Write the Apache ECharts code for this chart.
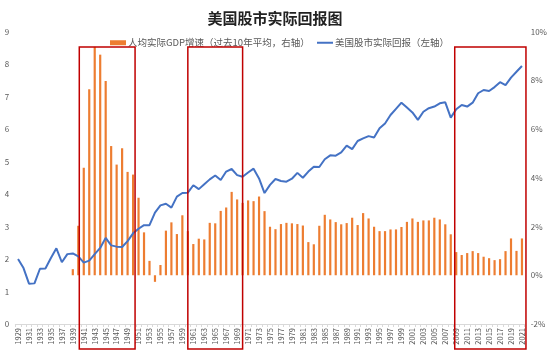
<!DOCTYPE html>
<html>
<head>
<meta charset="utf-8">
<script src="https://cdn.jsdelivr.net/npm/echarts@6/dist/echarts.min.js"></script>
<style>
html,body{margin:0;padding:0;background:#fff;}
#chart{width:550px;height:351px;}
</style>
</head>
<body>
<div id="chart"></div>
<script>
const years = ['1929','1930','1931','1932','1933','1934','1935','1936','1937','1938','1939','1940','1941','1942','1943','1944','1945','1946','1947','1948','1949','1950','1951','1952','1953','1954','1955','1956','1957','1958','1959','1960','1961','1962','1963','1964','1965','1966','1967','1968','1969','1970','1971','1972','1973','1974','1975','1976','1977','1978','1979','1980','1981','1982','1983','1984','1985','1986','1987','1988','1989','1990','1991','1992','1993','1994','1995','1996','1997','1998','1999','2000','2001','2002','2003','2004','2005','2006','2007','2008','2009','2010','2011','2012','2013','2014','2015','2016','2017','2018','2019','2020','2021'];

// 人均实际GDP增速（过去10年平均，%）— right axis
const gdpGrowth = [null,null,null,null,null,null,null,null,null,null,
  0.25,2.03,4.41,7.63,9.37,9.05,7.97,5.30,4.54,5.21,4.24,4.13,3.18,1.76,0.59,-0.27,0.42,1.83,2.17,1.69,2.46,
  1.81,1.28,1.50,1.47,2.15,2.13,2.64,2.78,3.42,3.11,2.97,3.07,3.04,3.23,2.63,1.99,1.89,2.10,2.15,2.13,
  2.10,2.04,1.36,1.27,2.03,2.48,2.29,2.18,2.09,2.14,2.36,2.06,2.55,2.33,1.99,1.81,1.81,1.88,1.88,1.98,
  2.19,2.33,2.19,2.25,2.25,2.36,2.29,2.09,1.68,0.95,0.83,0.91,0.99,0.91,0.76,0.70,0.62,0.66,0.99,1.51,1.00,1.51];

// 美国股市实际回报 — left axis
const stockReturn = [2.00,1.72,1.24,1.25,1.70,1.71,2.03,2.33,1.90,2.15,
  2.17,2.08,1.89,1.95,2.15,2.34,2.65,2.42,2.38,2.37,2.55,2.79,2.93,3.04,3.04,3.43,3.65,3.70,3.58,3.92,4.03,
  4.04,4.27,4.15,4.30,4.45,4.57,4.43,4.69,4.77,4.58,4.53,4.66,4.78,4.48,4.03,4.28,4.46,4.40,4.38,4.47,
  4.65,4.50,4.69,4.84,4.83,5.07,5.19,5.18,5.28,5.49,5.38,5.63,5.71,5.78,5.74,6.02,6.17,6.43,6.62,6.81,
  6.66,6.51,6.28,6.53,6.64,6.69,6.79,6.82,6.35,6.61,6.74,6.69,6.81,7.10,7.20,7.17,7.29,7.44,7.35,7.58,7.76,7.94];

const leftTicks = [0,1,2,3,4,5,6,7,8,9];
const rightTicks = ['-2%','0%','2%','4%','6%','8%','10%'];

// highlighted periods (red boxes)
const periods = [['1940','1950'],['1960','1970'],['2009','2021']];

const FONT = '"Noto Sans CJK SC","Noto Sans",sans-serif';
const GREY = '#595959';
const BAR_NAME = '人均实际GDP增速（过去10年平均，右轴）';
const LINE_NAME = '美国股市实际回报（左轴）';

const chart = echarts.init(document.getElementById('chart'), null, {renderer:'canvas'});
chart.setOption({
  animation:false,
  backgroundColor:'#fff',
  textStyle:{fontFamily:FONT},
  title:{
    text:'美国股市实际回报图', left:'center', top:6,
    textStyle:{fontSize:15, fontWeight:'bold', color:'#222', fontFamily:FONT}
  },
  legend:[
    {top:33, left:105, itemWidth:16, itemHeight:5, icon:'rect',
     textStyle:{fontSize:9.5, color:GREY, fontFamily:FONT, padding:[0,0,0,-3]},
     data:[BAR_NAME]},
    {top:33, left:312, itemWidth:16, itemHeight:2, icon:'rect',
     textStyle:{fontSize:9.5, color:GREY, fontFamily:FONT, padding:[0,0,0,-3]},
     data:[LINE_NAME]}
  ],
  grid:{left:15.3, right:25.3, top:31.5, bottom:27, containLabel:false},
  xAxis:{
    type:'category', data:years, boundaryGap:true,
    axisLine:{lineStyle:{color:'#d9d9d9'}},
    axisTick:{show:true, interval:0, length:3, lineStyle:{color:'#d9d9d9'}},
    axisLabel:{rotate:90, interval:1, fontSize:7.5, color:GREY, margin:4, fontFamily:FONT}
  },
  yAxis:[
    {type:'value', min:leftTicks[0], max:leftTicks[leftTicks.length-1], interval:1,
     splitLine:{show:false}, axisLine:{show:false}, axisTick:{show:false},
     axisLabel:{fontSize:8, color:GREY, margin:6, fontFamily:FONT}},
    {type:'value', min:parseFloat(rightTicks[0]), max:parseFloat(rightTicks[rightTicks.length-1]), interval:2,
     splitLine:{show:false}, axisLine:{show:false}, axisTick:{show:false},
     axisLabel:{fontSize:8, color:GREY, margin:6, formatter:'{value}%', fontFamily:FONT}}
  ],
  series:[
    {name:BAR_NAME, type:'bar', yAxisIndex:1, data:gdpGrowth,
     barWidth:'40%', itemStyle:{color:'#ED7D31'}},
    {name:LINE_NAME, type:'line', yAxisIndex:0, data:stockReturn,
     symbol:'none', lineStyle:{color:'#4472C4', width:2}, itemStyle:{color:'#4472C4'}, z:3}
  ]
});

function drawBoxes(){
  const rects = periods.map(function(p, i){
    let x1 = chart.convertToPixel({xAxisIndex:0}, p[0]);
    let x2 = chart.convertToPixel({xAxisIndex:0}, p[1]);
    if (i === 0) { x1 += 1; x2 += 2; }
    if (i === 2) { x1 -= 1.5; x2 += 4; }
    return {type:'rect', shape:{x:x1, y:47, width:x2-x1, height:302},
            style:{fill:'none', stroke:'#C00000', lineWidth:1.5}, z:100};
  });
  chart.setOption({graphic:rects});
}
drawBoxes();
</script>
</body>
</html>
